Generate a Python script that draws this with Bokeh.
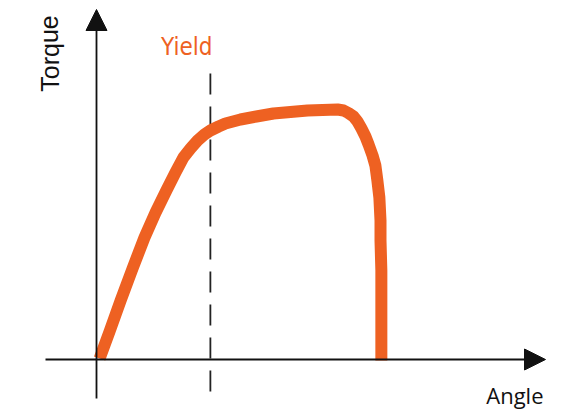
from bokeh.plotting import figure
from bokeh.models import Range1d, Arrow, NormalHead, Label
from bokeh.embed import file_html
from bokeh.resources import INLINE

# ---- data (schematic torque-angle curve, arbitrary units) ----
angle = [1.1, 4.6, 8.5, 12.7, 16.9, 20.8, 24.6, 27.8, 30.6, 33.1, 35.6, 38.0, 40.1,
         43.0, 45.4, 50.7, 56.3, 62.3, 68.3, 74.3, 79.6, 84.9, 87.0, 88.7, 90.5,
         91.9, 93.3, 94.7, 95.8, 97.2, 98.2, 98.9, 99.6, 100.0, 100.0, 100.3,
         100.3, 100.3, 100.3]
torque = [0.4, 11.2, 23.6, 36.4, 48.8, 58.8, 67.6, 74.8, 80.8, 84.4, 87.6, 90.0, 91.6,
          93.2, 94.4, 96.0, 97.2, 98.4, 99.0, 99.6, 99.8, 100.0, 99.6, 98.6, 97.2,
          95.2, 92.4, 89.2, 86.0, 81.6, 77.6, 71.6, 64.8, 55.6, 47.6, 35.6,
          23.6, 11.6, -0.4]
yield_angle = 40.1
labels = {"x": "Angle", "y": "Torque", "yield": "Yield"}

ORANGE = "#EE6122"
AXIS = "#111111"

# ---- layout: px per unit ----
W, H = 561, 410
sx, sy = 2.84, 2.5          # px per data unit
ox, oy = 96, 359            # origin position inside the canvas (from top-left)

x0 = -ox / sx
x1 = (W - ox) / sx
y1 = oy / sy
y0 = -(H - oy) / sy

p = figure(width=W, height=H, x_range=Range1d(x0, x1), y_range=Range1d(y0, y1),
           output_backend="svg", toolbar_location=None, min_border=0,
           x_axis_location=None, y_axis_location=None)
p.grid.visible = False
p.outline_line_color = None
p.background_fill_color = "white"
p.border_fill_color = "white"

# axes with arrow heads
p.add_layout(Arrow(end=NormalHead(size=21, fill_color=AXIS, line_color=AXIS, line_width=1),
                   x_start=-51 / sx, y_start=0, x_end=449 / sx, y_end=0,
                   line_width=1.8, line_color=AXIS))
p.add_layout(Arrow(end=NormalHead(size=21, fill_color=AXIS, line_color=AXIS, line_width=1),
                   x_start=0, y_start=-39 / sy, x_end=0, y_end=350 / sy,
                   line_width=1.8, line_color=AXIS))

# yield dashed line
p.segment(x0=[yield_angle], y0=[286 / sy], x1=[yield_angle], y1=[-33 / sy],
          line_dash="21 12", line_width=1.8, line_color="#222222")

# curve
p.line(angle, torque, line_width=12, line_color=ORANGE, line_join="round", line_cap="butt")

# labels
p.add_layout(Label(x=yield_angle, y=313 / sy, x_offset=2, text=labels["yield"],
                   text_align="right", text_baseline="alphabetic",
                   text_font="DejaVu Sans Condensed, Roboto, sans-serif",
                   text_font_size="24px", text_color=ORANGE))
p.add_layout(Label(x=-47 / sx, y=306 / sy, text=labels["y"], angle=1.5708,
                   text_align="center", text_baseline="alphabetic",
                   text_font="Liberation Sans", text_font_size="25px",
                   text_color="#111111"))
p.add_layout(Label(x=447 / sx, y=-35 / sy, text=labels["x"],
                   text_align="right", text_baseline="alphabetic",
                   text_font="Open Sans", text_font_size="22px",
                   text_color="#111111"))

open("out.html", "w").write(file_html(p, INLINE))
